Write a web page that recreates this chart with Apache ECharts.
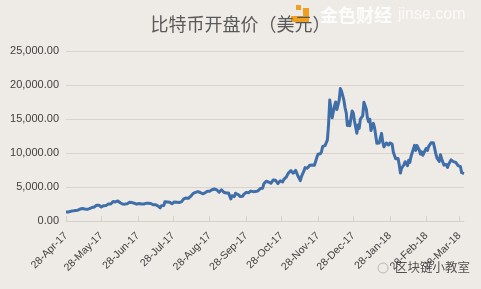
<!DOCTYPE html>
<html>
<head>
<meta charset="utf-8">
<script src="https://cdn.jsdelivr.net/npm/echarts@6/dist/echarts.min.js"></script>
<style>
html,body{margin:0;padding:0;background:#eeebe6;}
#chart{width:481px;height:289px;}
</style>
</head>
<body>
<div id="chart"></div>
<script>
// Daily BTC open prices (USD)
const startDate = '2017-04-28';
const openApr17 = [1317, 1317, 1320];
const openMay17 = [1348, 1421, 1454, 1490, 1540, 1556, 1579, 1596, 1723, 1756, 1780, 1845, 1723, 1771, 1782, 1708, 1730, 1819, 1897, 1984, 2043, 2067, 2191, 2321, 2446, 2320, 2196, 2054, 2160, 2255, 2188];
const openJun17 = [2288, 2414, 2491, 2553, 2512, 2690, 2870, 2700, 2807, 2828, 2942, 2953, 2680, 2718, 2499, 2469, 2478, 2655, 2549, 2623, 2765, 2709, 2707, 2738, 2609, 2590, 2478, 2553, 2576, 2567];
const openJul17 = [2492, 2436, 2498, 2564, 2601, 2608, 2608, 2520, 2572, 2525, 2385, 2332, 2402, 2360, 2233, 1977, 1932, 2228, 2324, 2269, 2838, 2668, 2808, 2757, 2757, 2577, 2539, 2682, 2807, 2724, 2764];
const openAug17 = [2871, 2727, 2710, 2807, 2897, 3257, 3223, 3378, 3420, 3342, 3373, 3650, 3880, 4066, 4326, 4201, 4384, 4324, 4137, 4189, 4090, 4000, 4089, 4137, 4332, 4373, 4345, 4384, 4390, 4597, 4589];
const openSep17 = [4701, 4902, 4585, 4591, 4228, 4376, 4589, 4605, 4229, 4226, 4122, 4168, 4131, 3875, 3243, 3715, 3707, 3591, 4080, 3910, 3901, 3629, 3604, 3786, 3626, 3928, 3892, 4210, 4197, 4166];
const openOct17 = [4341, 4395, 4408, 4319, 4229, 4324, 4370, 4429, 4615, 4777, 4757, 4829, 5464, 5643, 5835, 5687, 5741, 5603, 5546, 5708, 6036, 6007, 5984, 5935, 5505, 5747, 5904, 5787, 5754, 6114, 6132];
const openNov17 = [6440, 6777, 7087, 7164, 7404, 7403, 7023, 7141, 7446, 7173, 6618, 6295, 5938, 6561, 6635, 7323, 7853, 7697, 7766, 8039, 8205, 8077, 8233, 8075, 8201, 8755, 9352, 9823, 9906, 9896];
const openDec17 = [10198, 10975, 10912, 11082, 11315, 11923, 14266, 17802, 16523, 15168, 15427, 16919, 17500, 16384, 16601, 17760, 19475, 19106, 18961, 17760, 16642, 15898, 14030, 14608, 13996, 14036, 16163, 15864, 14695, 14681, 12898];
const openJan18 = [14112, 13625, 14978, 15270, 15477, 17462, 17527, 16477, 15170, 14588, 14969, 13296, 13952, 14371, 13767, 13836, 11431, 11199, 11475, 11656, 12889, 11586, 10903, 10944, 11475, 11256, 11174, 11475, 11755, 11307, 10109];
const openFeb18 = [10237, 9142, 8853, 9175, 8270, 7051, 7756, 7637, 8272, 8720, 8616, 8141, 8926, 8599, 9489, 10032, 10207, 11124, 10384, 11110, 11196, 10438, 9840, 10165, 9669, 9605, 10393, 10688];
const openMar18 = [10385, 10977, 11102, 11497, 11513, 11500, 10766, 9952, 9281, 9185, 8743, 9741, 9154, 9214, 8214, 8290, 8322, 7891, 8344, 8344, 8987, 8939, 8736, 8901, 8613, 8498, 8134, 7877, 7979, 7101, 6892];
const openApr18 = [6973];

const tickLabels = ['28-Apr-17','28-May-17','28-Jun-17','28-Jul-17','28-Aug-17','28-Sep-17','28-Oct-17','28-Nov-17','28-Dec-17','28-Jan-18','28-Feb-18','28-Mar-18'];
const yTicks = [0, 5000, 10000, 15000, 20000, 25000];

const values = [].concat(openApr17, openMay17, openJun17, openJul17, openAug17, openSep17, openOct17, openNov17, openDec17, openJan18, openFeb18, openMar18, openApr18);
const MONTHS = ['Jan','Feb','Mar','Apr','May','Jun','Jul','Aug','Sep','Oct','Nov','Dec'];
const categories = [];
{
  const d0 = new Date(startDate + 'T00:00:00Z');
  for (let i = 0; i < values.length; i++) {
    const d = new Date(d0.getTime() + i * 86400000);
    categories.push(d.getUTCDate() + '-' + MONTHS[d.getUTCMonth()] + '-' + String(d.getUTCFullYear()).slice(2));
  }
}

const chart = echarts.init(document.getElementById('chart'), null, {renderer: 'canvas'});
const showTick = (idx, val) => tickLabels.indexOf(val) >= 0;
chart.setOption({
  backgroundColor: '#eeebe6',
  animation: false,
  title: {
    text: '比特币开盘价（美元）',
    left: 'center',
    top: 10,
    textStyle: {fontFamily: '"Noto Sans CJK SC", sans-serif', fontSize: 18, fontWeight: 'normal', color: '#595959'}
  },
  grid: {left: 66, right: 17, top: 51, bottom: 68, containLabel: false},
  xAxis: {
    type: 'category',
    data: categories,
    boundaryGap: false,
    axisLine: {lineStyle: {color: '#d6d1cb', width: 1}},
    axisTick: {show: true, inside: true, length: 5, interval: showTick, lineStyle: {color: '#d6d1cb'}},
    axisLabel: {
      interval: showTick,
      rotate: 45,
      margin: 13,
      fontFamily: '"Liberation Sans", Arial, sans-serif',
      fontSize: 10.5,
      color: '#404040'
    },
    splitLine: {show: false}
  },
  yAxis: {
    type: 'value',
    min: yTicks[0],
    max: yTicks[yTicks.length - 1],
    interval: 5000,
    axisLine: {show: false},
    axisTick: {show: false},
    axisLabel: {
      margin: 7,
      fontFamily: '"Liberation Sans", Arial, sans-serif',
      fontSize: 11,
      color: '#404040',
      formatter: v => v.toLocaleString('en-US', {minimumFractionDigits: 2, maximumFractionDigits: 2})
    },
    splitLine: {lineStyle: {color: '#d9d3cc', width: 1}}
  },
  series: [{
    type: 'line',
    data: values,
    showSymbol: false,
    symbol: 'none',
    lineStyle: {color: '#3f6ea8', width: 3, join: 'round'},
    itemStyle: {color: '#3f6ea8'}
  }],
  graphic: [
    {type: 'rect', shape: {x: 296, y: 5, width: 5, height: 5}, style: {fill: '#f0a020'}},
    {type: 'rect', shape: {x: 303, y: 8, width: 6, height: 14}, style: {fill: '#f0a020'}},
    {type: 'rect', shape: {x: 291, y: 16, width: 18, height: 6}, style: {fill: '#f0a020'}},
    {type: 'text', left: 320, top: 6, style: {text: '金色财经', fill: 'rgba(255,255,255,0.85)', font: 'bold 18px "Noto Sans CJK SC", sans-serif'}},
    {type: 'text', left: 398, top: 7, style: {text: 'jinse.com', fill: 'rgba(255,255,255,0.75)', font: '16px "Liberation Sans", Arial, sans-serif'}},
    {type: 'circle', shape: {cx: 383, cy: 268, r: 5}, style: {fill: 'none', stroke: 'rgba(150,150,150,0.6)', lineWidth: 1}},
    {type: 'text', left: 395, top: 261, style: {text: '区块链小教室', fill: 'rgba(50,50,50,0.85)', font: '12.5px "Noto Sans CJK SC", sans-serif'}}
  ]
});
</script>
</body>
</html>
